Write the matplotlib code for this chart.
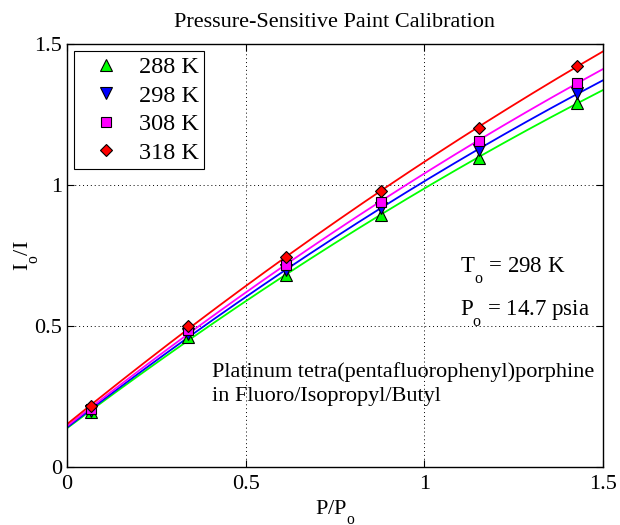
import numpy as np
import matplotlib
matplotlib.use("Agg")
import matplotlib.pyplot as plt
import matplotlib._mathtext as _mt

# deeper subscripts, like the original renderer
_mt.FontConstantsBase.sub1 = 1.0

plt.rcParams['font.family'] = ['Liberation Serif', 'DejaVu Serif']
plt.rcParams['mathtext.fontset'] = 'custom'
plt.rcParams['mathtext.rm'] = 'Liberation Serif'
plt.rcParams['mathtext.it'] = 'Liberation Serif:italic'

x_ratio = [0.067, 0.34, 0.613, 0.88, 1.153, 1.426]
I_288 = [0.195, 0.460, 0.681, 0.894, 1.095, 1.292]
I_298 = [0.200, 0.470, 0.699, 0.917, 1.124, 1.325]
I_308 = [0.205, 0.485, 0.716, 0.941, 1.156, 1.363]
I_318 = [0.215, 0.500, 0.744, 0.980, 1.201, 1.423]
labels = ['288 K', '298 K', '308 K', '318 K']
colors = ['#00ff00', '#0000ff', '#ff00ff', '#ff0000']
markers = ['^', 'v', 's', 'D']
msizes = [8, 8, 7, 6.5]

fig = plt.figure(figsize=(6.2, 5.25), dpi=100)
ax = fig.add_axes([67/620, 1-467/525, (603-67)/620, (467-44)/525])

xf = np.linspace(0, 1.5, 200)
handles = []
for ys, c in zip([I_288, I_298, I_308, I_318], colors):
    coef = np.polyfit(x_ratio, ys, 2)
    ax.plot(xf, np.polyval(coef, xf), color=c, lw=1.3, zorder=2)
for ys, c, m, ms, lab in zip([I_288, I_298, I_308, I_318], colors, markers, msizes, labels):
    h, = ax.plot(x_ratio, ys, linestyle='none', marker=m, markersize=ms,
                 markerfacecolor=c, markeredgecolor='black', markeredgewidth=0.8,
                 label=lab, zorder=3)
    handles.append(h)

ax.set_xlim(0, 1.5)
ax.set_ylim(0, 1.5)
ax.set_xticks([0, 0.5, 1, 1.5])
ax.set_yticks([0, 0.5, 1, 1.5])
ax.set_xticklabels(['0', '0.5', '1', '1.5'])
ax.set_yticklabels(['0', '0.5', '1', '1.5'])
ax.tick_params(direction='in', length=5, top=True, right=True, labelsize=16, width=0.8)
ax.tick_params(axis='x', pad=6)
ax.tick_params(axis='y', pad=3.5)
ax.grid(True, color='black', linestyle=(0, (1, 3)), linewidth=0.7)
for s in ax.spines.values():
    s.set_linewidth(1.0)

ax.set_title('Pressure-Sensitive Paint Calibration', fontsize=16, pad=12)
ax.set_xlabel('P/P$_\\mathrm{o}$', fontsize=16, labelpad=3)
ax.set_ylabel('I$_\\mathrm{o}$/I', fontsize=16, labelpad=-4)

leg = ax.legend(handles=handles, loc='upper left', fontsize=17.5, frameon=True,
                fancybox=False, edgecolor='black', framealpha=1,
                borderaxespad=0.3, handletextpad=0.25, labelspacing=0.27,
                handlelength=2.2, borderpad=0.2)
leg.get_frame().set_linewidth(0.8)

ax.text(1.1, 0.69, 'T$_\\mathrm{o}$ = 298 K', fontsize=16.5, ha='left', va='baseline')
ax.text(1.1, 0.539, 'P$_\\mathrm{o}$ = 14.7 psia', fontsize=16.5, ha='left', va='baseline')
ax.text(0.406, 0.32, 'Platinum tetra(pentafluorophenyl)porphine', fontsize=16, ha='left', va='baseline')
ax.text(0.406, 0.234, 'in Fluoro/Isopropyl/Butyl', fontsize=16, ha='left', va='baseline')

fig.savefig('out.png', dpi=100)
